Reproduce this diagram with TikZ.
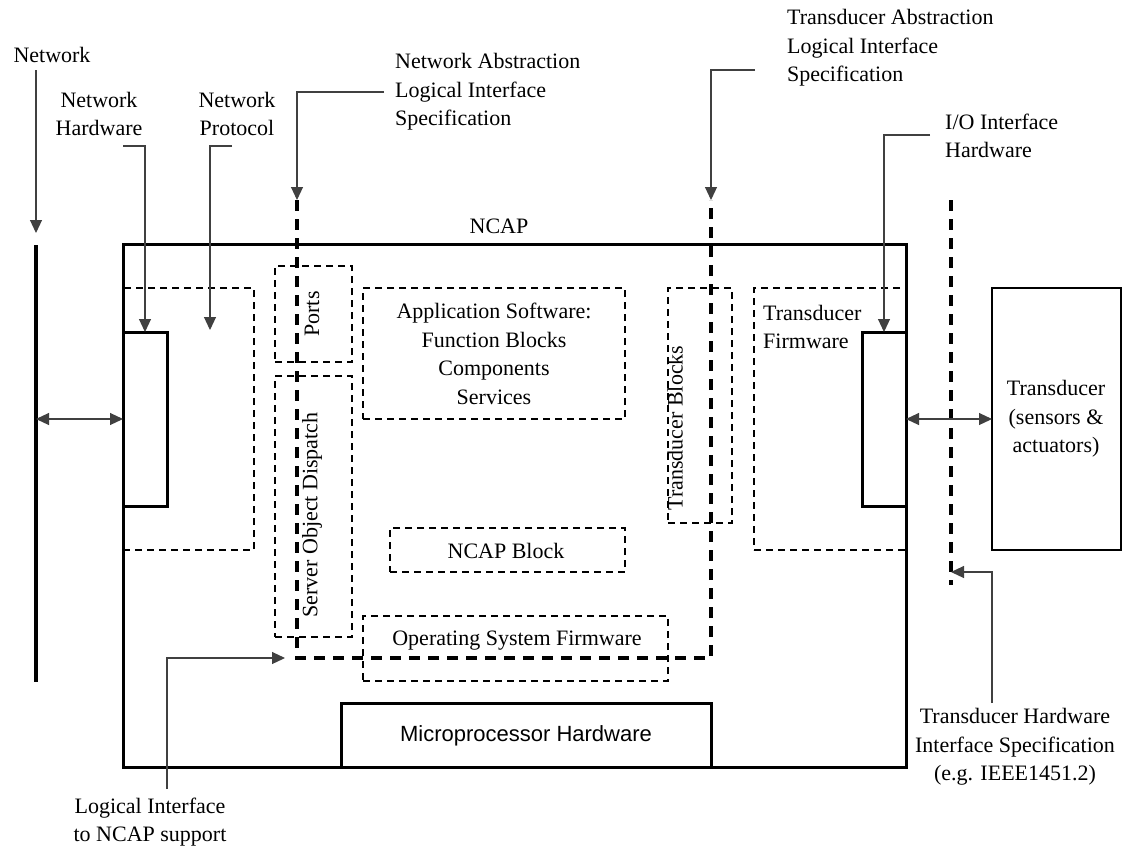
\documentclass[tikz,border=0pt]{standalone}
\usepackage{fontspec}
\setmainfont{Liberation Serif}
\newfontfamily\hwsans{Liberation Sans}
\usetikzlibrary{arrows.meta}
\tikzset{
  lbl/.style={inner sep=0pt, font=\fontsize{22}{28.5}\selectfont, align=center},
  lbll/.style={lbl, align=left, anchor=west},
  box/.style={inner sep=0pt, outer sep=0pt, anchor=north west},
  solidbox/.style={box, draw=black, line width=3pt},
  thinbox/.style={box, draw=black, line width=1.6pt},
  dashbox/.style={box, draw=black, line width=1.5pt, dash pattern=on 7pt off 5pt},
  bigdash/.style={draw=black, line width=3.2pt, dash pattern=on 11pt off 8pt},
  tip/.style={-{Triangle[length=13pt,width=12pt]}},
  leader/.style={line width=1.1pt, draw=black!75, tip},
  link/.style={line width=1.1pt, draw=black!75, {Triangle[length=13pt,width=12pt]}-{Triangle[length=13pt,width=12pt]}}
}
\begin{document}
\begin{tikzpicture}[x=1pt,y=-1pt]
\useasboundingbox (0,0) rectangle (1126,855);

% dashed functional blocks inside the NCAP
\node[dashbox, minimum width=131pt, minimum height=262pt] (netfw) at (123,288) {};
\node[dashbox, minimum width=152pt, minimum height=262pt] (trfw) at (754,288) {};
\node[dashbox, minimum width=77pt, minimum height=96pt] (ports) at (275,266) {};
\node[dashbox, minimum width=77pt, minimum height=261pt] (sod) at (275,376) {};
\node[dashbox, minimum width=262pt, minimum height=131pt] (app) at (363,288) {};
\node[dashbox, minimum width=64pt, minimum height=235pt] (tblk) at (668,288) {};
\node[dashbox, minimum width=235pt, minimum height=44pt] (nblk) at (390,528) {};
\node[dashbox, minimum width=305pt, minimum height=65pt] (osfw) at (363,616) {};

% NCAP outline and hardware blocks
\node[solidbox, minimum width=783pt, minimum height=523pt] (ncap) at (123,244) {};
\node[solidbox, fill=white, minimum width=44pt, minimum height=174pt] (nethw) at (123,332) {};
\node[solidbox, fill=white, minimum width=44pt, minimum height=174pt] (iohw) at (862,332) {};
\node[solidbox, fill=white, minimum width=370pt, minimum height=64pt] (mphw) at (341,703) {};
\node[thinbox, minimum width=129pt, minimum height=262pt] (trans) at (992,288) {};

% the network bus
\coordinate (nettop) at (36,245);
\coordinate (netbot) at (36,682);
\draw[line width=3.4pt] (nettop) -- (netbot);

% logical interface boundaries
\coordinate (nalA) at (297,200);
\coordinate (nalB) at (297,658);
\coordinate (talB) at (711,658);
\coordinate (talA) at (711,200);
\path[bigdash] (nalA) -- (nalB) -- (talB) -- (talA);
\coordinate (thwA) at (951,200);
\coordinate (thwB) at (951,585);
\path[bigdash] (thwA) -- (thwB);

% block texts
\node[lbl] (tncap) at (499,226) {NCAP};
\node[lbl] (tapp) at (494,354) {Application Software:\\Function Blocks\\Components\\Services};
\node[lbl, rotate=90] (tports) at (312,314) {Ports};
\node[lbl, rotate=90] (tsod) at (312,515) {Server Object Dispatch};
\node[lbl, rotate=90] (ttblk) at (675,428) {Transducer Blocks};
\node[lbl] (tnblk) at (506,551) {NCAP Block};
\node[lbl] (tosfw) at (517,641) {Operating System Firmware};
\node[lbl, font=\hwsans\fontsize{22}{28.5}\selectfont] (tmphw) at (526,736) {Microprocessor Hardware};
\node[lbll] (ttrfw) at (763,327) {Transducer\\Firmware};
\node[lbl] (ttrans) at (1056,419) {Transducer\\(sensors \&\\actuators)};

% callout texts
\node[lbl] (lnet) at (52,55) {Network};
\node[lbl] (lnhw) at (99,114) {Network\\Hardware};
\node[lbl] (lnpr) at (237,114) {Network\\Protocol};
\node[lbll] (lnal) at (395,92) {Network Abstraction\\Logical Interface\\Specification};
\node[lbll] (ltal) at (787,48) {Transducer Abstraction\\Logical Interface\\Specification};
\node[lbll] (liohw) at (945,136) {I/O Interface\\Hardware};
\node[lbl] (lthw) at (1015,747) {Transducer Hardware\\Interface Specification\\(e.g. IEEE1451.2)};
\node[lbl] (llog) at (150,822) {Logical Interface\\to NCAP support};

% callout leaders
\coordinate (cnet) at (36,70);
\coordinate (cnetend) at (36,233);
\draw[leader] (cnet) -- (cnetend);
\coordinate (cnhw) at (123,146);
\draw[leader] (cnhw) -| (nethw.north);
\coordinate (cnpr) at (232,146);
\coordinate (cnprend) at (210,330);
\draw[leader] (cnpr) -| (cnprend);
\coordinate (cnal) at (384,92);
\draw[leader] (cnal) -| (nalA);
\coordinate (ctal) at (755,70);
\draw[leader] (ctal) -| (talA);
\coordinate (ciohw) at (930,135);
\draw[leader] (ciohw) -| (iohw.north);
\coordinate (cthw) at (992,703);
\coordinate (cthwend) at (951,572);
\draw[leader] (cthw) |- (cthwend);
\coordinate (clog) at (167,789);
\coordinate (clogend) at (285,658);
\draw[leader] (clog) |- (clogend);

% data paths
\coordinate (netport) at (36,419);
\draw[link] (netport) -- (nethw.west);
\draw[link] (iohw.east) -- (trans.west);
\end{tikzpicture}
\end{document}
